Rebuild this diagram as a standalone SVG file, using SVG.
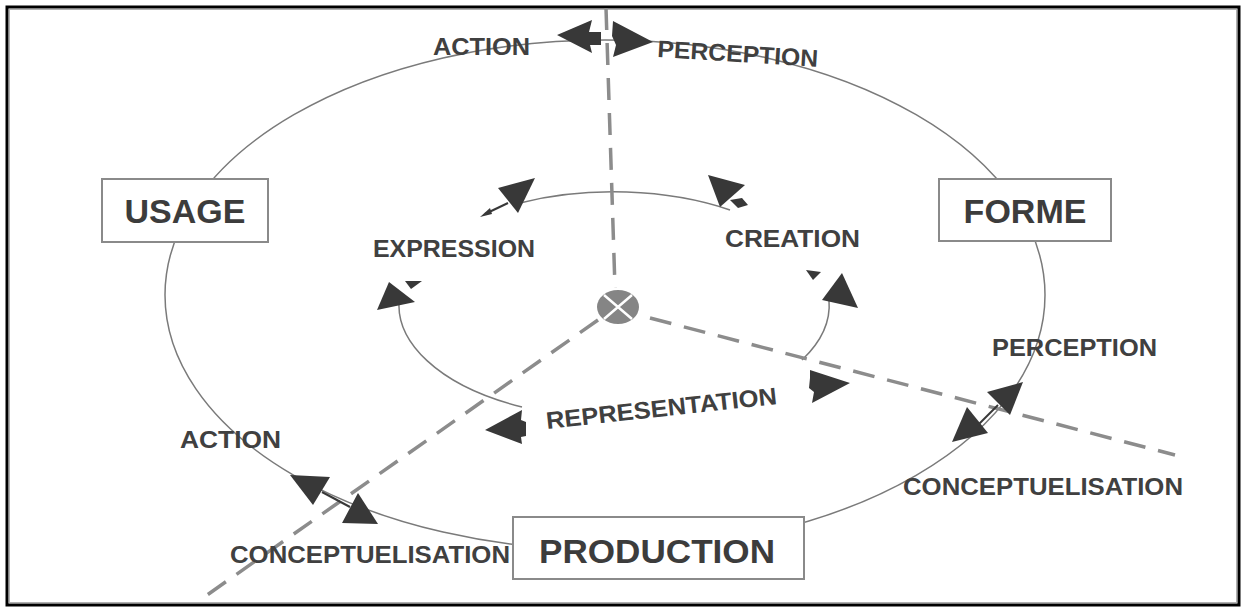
<svg xmlns="http://www.w3.org/2000/svg" width="1242" height="608" viewBox="0 0 1242 608">
<style>
.line{fill:none;stroke:#7a7a7a;stroke-width:1.5}
.dash{fill:none;stroke:#8c8c8c;stroke-width:3.5;stroke-dasharray:22 13}
.head{fill:#383838;stroke:none}
.thin{fill:none;stroke:#383838;stroke-width:2}
.box{fill:#fff;stroke:#8a8a8a;stroke-width:2}
.boxt{font-family:"Liberation Sans",Arial,sans-serif;font-weight:bold;font-size:34px;fill:#3c3c3c}
.lab{font-family:"Liberation Sans",Arial,sans-serif;font-weight:bold;font-size:24px;fill:#404040}
</style>
<rect x="0" y="0" width="1242" height="608" fill="#fff"/>
<rect x="7" y="7" width="1232" height="598" fill="none" stroke="#000" stroke-width="3"/>
<rect x="9.5" y="9.5" width="1227" height="593" fill="none" stroke="#b0b0b0" stroke-width="1"/>

<g id="connectors">
  <ellipse class="line" cx="605" cy="295" rx="440" ry="255"/>
  <path class="line" d="M520,203 A215,113 0 0 1 730,210"/>
  <path class="line" d="M400,294 A215,113 0 0 0 522,407"/>
  <path class="line" d="M829,300 A215,113 0 0 1 802,360"/>
  <path class="dash" d="M606,8 L615,288"/>
  <path class="dash" d="M598,320 L200,600"/>
  <path class="dash" d="M650,318 L1175,455"/>
  <polygon class="head" points="557,35 592,20 589,32 601,32 601,45 590,45 592,53"/>
  <polygon class="head" points="613,21 653,42 613,57 616,45 612,36"/>
  <polygon class="head" points="535,178 498,188 518,213"/>
  <line class="thin" x1="508" y1="203" x2="485" y2="214"/>
  <polygon class="head" points="480,217 490,208 492,214"/>
  <polygon class="head" points="708,175 745,185 720,207"/>
  <polygon class="head" points="730,200 742,198 748,205 738,208"/>
  <polygon class="head" points="389,282 377,310 415,302"/>
  <polygon class="head" points="405,281 422,281 411,289"/>
  <polygon class="head" points="842,273 858,308 822,300"/>
  <polygon class="head" points="806,270 821,272 813,280"/>
  <polygon class="head" points="485,430 522,410 521,420 526,422 526,436 521,437 522,444"/>
  <polygon class="head" points="810,370 850,383 812,403 814,392 809,388 810,378"/>
  <polygon class="head" points="1023,382 987,392 1010,415"/>
  <polygon class="head" points="952,442 967,407 988,433"/>
  <line class="thin" x1="998" y1="405" x2="978" y2="425"/>
  <polygon class="head" points="290,475 330,477 313,505"/>
  <polygon class="head" points="358,493 342,523 378,524"/>
  <line class="thin" x1="322" y1="492" x2="350" y2="507"/>
  <ellipse cx="618" cy="307" rx="21" ry="17" fill="#858585"/>
  <path d="M604,295 L632,319 M632,295 L604,319" stroke="#fff" stroke-width="2.5"/>
</g>

<g id="usage">
  <rect class="box" x="102" y="179" width="166" height="63"/>
  <text class="boxt" x="185" y="223" text-anchor="middle">USAGE</text>
</g>
<g id="forme">
  <rect class="box" x="939" y="179" width="172" height="62"/>
  <text class="boxt" x="1025" y="223" text-anchor="middle">FORME</text>
</g>
<g id="production">
  <rect class="box" x="513" y="517" width="291" height="62"/>
  <text class="boxt" x="539" y="563" textLength="236" lengthAdjust="spacingAndGlyphs">PRODUCTION</text>
</g>

<g id="labels">
  <text class="lab" x="433" y="55" textLength="97" lengthAdjust="spacingAndGlyphs">ACTION</text>
  <text class="lab" x="657" y="57" textLength="161" lengthAdjust="spacingAndGlyphs" transform="rotate(3.5 657 57)">PERCEPTION</text>
  <text class="lab" x="373" y="257" textLength="162" lengthAdjust="spacingAndGlyphs">EXPRESSION</text>
  <text class="lab" x="725" y="247" textLength="135" lengthAdjust="spacingAndGlyphs">CREATION</text>
  <text class="lab" x="992" y="356" textLength="165" lengthAdjust="spacingAndGlyphs">PERCEPTION</text>
  <text class="lab" x="903" y="495" textLength="280" lengthAdjust="spacingAndGlyphs">CONCEPTUELISATION</text>
  <text class="lab" x="180" y="448" textLength="101" lengthAdjust="spacingAndGlyphs">ACTION</text>
  <text class="lab" x="230" y="563" textLength="280" lengthAdjust="spacingAndGlyphs">CONCEPTUELISATION</text>
  <text class="lab" x="547" y="429" textLength="232" lengthAdjust="spacingAndGlyphs" transform="rotate(-6.2 547 429)">REPRESENTATION</text>
</g>
</svg>
